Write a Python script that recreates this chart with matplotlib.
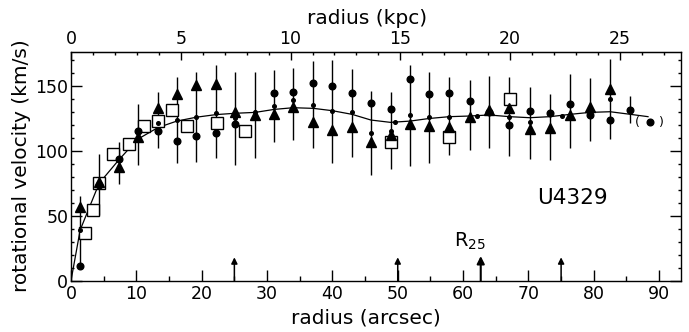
import matplotlib
matplotlib.use("Agg")
import matplotlib.pyplot as plt
from matplotlib.ticker import MultipleLocator, FixedLocator

# ---------------- data (radius in arcsec, velocity in km/s) ----------------
tri_r = [1.4, 4.3, 7.3, 10.2, 13.3, 16.2, 19.2, 22.2, 25.1, 28.2, 31.1, 34.0, 37.1, 40.0,
         43.0, 45.9, 48.9, 51.9, 54.8, 57.9, 61.0, 64.0, 67.1, 70.2, 73.3, 76.4, 79.4, 82.5]
tri_v = [57, 76, 88, 111, 133, 144, 151, 151.5, 130, 128, 128.5, 133.5, 122.5, 116.5,
         118.5, 106.5, 112, 120.5, 119.5, 118.5, 126, 131.5, 133, 117, 117.5, 128, 133.5, 147.5]

dot_r = [1.4, 4.3, 7.3, 10.2, 13.3, 16.2, 19.2, 22.2, 25.1, 31.1, 34.0, 37.1, 40.0, 43.0,
         45.9, 48.9, 51.9, 54.8, 57.9, 61.0, 64.0, 67.1, 70.2, 73.3, 76.4, 79.4, 82.5, 85.6]
dot_v = [11, 74, 94, 115.5, 115.5, 108, 111.5, 114, 120.5, 145, 145.5, 152, 150, 145,
         137, 132, 155.5, 144, 145, 138.5, 130, 120, 130.5, 129, 136, 128, 124, 131.5]

small_r = [1.4, 13.3, 16.2, 19.2, 22.2, 25.1, 28.2, 31.1, 34.0, 37.1, 40.0, 43.0, 45.9,
           48.9, 49.6, 51.9, 54.8, 57.9, 62.2, 67.1, 70.2, 75.1, 82.5]
small_v = [39, 121.5, 124, 126.5, 129.5, 125, 130, 135, 139, 135.5, 130.7, 129.7, 114,
           115.5, 122.5, 127.5, 125.8, 126.4, 127, 126.4, 122.5, 127, 140]

sq_r = [2.1, 3.3, 4.3, 6.5, 8.9, 11.1, 13.3, 15.4, 17.7, 22.3, 26.6, 48.9, 57.9, 67.2]
sq_v = [36.5, 54.5, 75, 98, 105.5, 119.5, 123, 131.5, 119, 121.5, 115, 106.5, 111, 140]

bar_r = [1.4, 4.3, 7.3, 10.2, 13.3, 16.2, 19.2, 22.2, 25.1, 28.2, 31.1, 34.0, 37.1, 40.0,
         43.0, 45.9, 48.9, 51.9, 54.8, 57.9, 61.0, 64.0, 67.1, 70.2, 73.3, 76.4, 79.4, 82.5, 85.6]
bar_lo = [11, 50.5, 74.5, 89, 102, 91, 91.5, 94.5, 89, 94.5, 107, 108.5, 102, 90.5,
          95.5, 81.5, 86, 88.5, 90.5, 97, 101, 102, 96, 93.5, 93, 102, 108, 109, 121.5]
bar_hi = [65, 97.5, 107, 136.5, 145.5, 157, 161, 166, 161, 161, 162.5, 164, 169, 170,
          163.5, 146, 145.5, 166, 161, 157, 154.5, 158, 157, 149.5, 143.5, 159, 156, 170.5, 142.5]

curve_r = [0, 1.4, 4.3, 7.3, 10.2, 13.3, 16.2, 19.2, 22.2, 25.1, 28.2, 31.1, 34.0, 37.1, 40.0,
           43.0, 45.9, 48.9, 51.9, 54.8, 57.9, 61.0, 64.0, 67.1, 70.2, 73.3, 76.4, 79.4,
           82.5, 85.6, 88.3]
curve_v = [0, 39, 75, 93, 109, 118, 123, 126, 128, 129, 129.7, 132, 133.3, 132.8, 131,
           128.2, 123.8, 122, 123, 125, 126.4, 126.9, 127.7, 126.4, 125.6, 126.4, 128.2, 129.7,
           130.2, 128.2, 126.4]

paren_r, paren_v = 88.6, 122          # bracketed outermost point
arrow_r = [25, 50, 62.7, 75]          # arrows on the radius axis
r25_r = 62.7
arrow_len = 18
r25_pos = (61.0, 30)
galaxy = "U4329"
kpc_per_arcsec = 1 / 3.36
kpc_major = [0, 5, 10, 15, 20, 25]
kpc_minor = list(range(0, 28))

# ---------------- figure ----------------
fig = plt.figure(figsize=(6.89, 3.32), dpi=100)
ax = fig.add_axes([71 / 689, (332 - 280.7) / 332, (680.7 - 71) / 689, (280.7 - 52.3) / 332])
ax.set_xlim(0, 93.3)
ax.set_ylim(0, 176)

ax.vlines(bar_r, bar_lo, bar_hi, color="black", lw=1.0, zorder=2)
ax.plot(curve_r, curve_v, color="black", lw=0.9, zorder=3)
ax.plot(sq_r, sq_v, ls="none", marker="s", ms=8, mfc="white", mec="black", mew=1.0, zorder=4)
ax.plot(dot_r, dot_v, ls="none", marker="o", ms=4.8, color="black", zorder=5)
ax.plot(tri_r, tri_v, ls="none", marker="^", ms=7.5, color="black", zorder=6)
ax.plot(small_r, small_v, ls="none", marker="o", ms=2.6, color="black", zorder=7)
ax.plot([paren_r], [paren_v], ls="none", marker="o", ms=4.8, color="black", zorder=5)
ax.text(paren_r - 2.0, paren_v, "(", ha="center", va="center", fontsize=9)
ax.text(paren_r + 1.7, paren_v, ")", ha="center", va="center", fontsize=9)

for xr in arrow_r:
    big = abs(xr - r25_r) < 0.01
    ax.annotate("", xy=(xr, arrow_len + (1 if big else 0)), xytext=(xr, 0),
                arrowprops=dict(arrowstyle="-|>", lw=1.1 if not big else 1.5, color="black",
                                mutation_scale=9 if not big else 11, shrinkA=0, shrinkB=0))

ax.text(r25_pos[0], r25_pos[1], r"R$_{\mathregular{25}}$", ha="center", va="center", fontsize=14)
ax.text(76.8, 63.7, galaxy, ha="center", va="center", fontsize=15.5)

# ticks
ax.xaxis.set_major_locator(MultipleLocator(10))
ax.xaxis.set_minor_locator(MultipleLocator(5))
ax.yaxis.set_major_locator(MultipleLocator(50))
ax.yaxis.set_minor_locator(MultipleLocator(10))
ax.tick_params(which="both", direction="in", top=False, right=True, labelsize=12.5, width=1.0)
ax.tick_params(axis="x", which="major", length=8, pad=3)
ax.tick_params(axis="x", which="minor", length=3.5)
ax.tick_params(axis="y", which="major", length=8, pad=2)
ax.tick_params(axis="y", which="minor", length=2.5)
for s in ax.spines.values():
    s.set_linewidth(1.0)

sec = ax.secondary_xaxis("top", functions=(lambda a: a * kpc_per_arcsec,
                                           lambda k: k / kpc_per_arcsec))
sec.xaxis.set_major_locator(FixedLocator(kpc_major))
sec.xaxis.set_minor_locator(FixedLocator(kpc_minor))
sec.tick_params(which="both", direction="in", labelsize=12.5, width=1.0)
sec.tick_params(which="major", length=6, pad=3)
sec.tick_params(which="minor", length=2.5)

fig.text(366 / 689, 1 - 318 / 332, "radius (arcsec)", ha="center", va="center", fontsize=14.5)
fig.text(367 / 689, 1 - 18 / 332, "radius (kpc)", ha="center", va="center", fontsize=14.5)
fig.text(22 / 689, 1 - 165.5 / 332, "rotational velocity (km/s)", ha="center", va="center",
         rotation=90, fontsize=14.5)

fig.savefig("out.png", dpi=100)
